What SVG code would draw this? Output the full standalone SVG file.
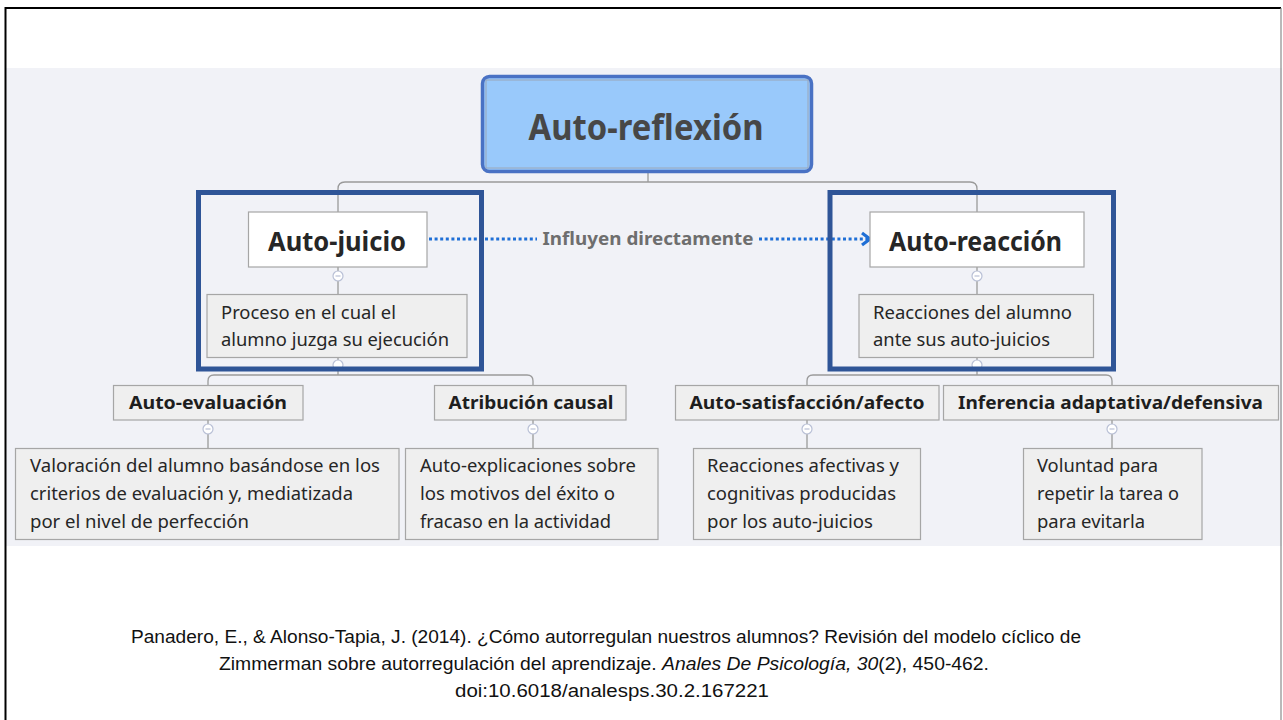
<svg xmlns="http://www.w3.org/2000/svg" width="1283" height="720" viewBox="0 0 1283 720">
<style>
.bx{fill:#efefef;stroke:#a6a6a6;stroke-width:1.2}
.wh{fill:#ffffff;stroke:#a6a6a6;stroke-width:1.2}
.cn{fill:none;stroke:#9a9a9a;stroke-width:1.3}
.cc{fill:#ffffff;stroke:#b9c0d6;stroke-width:1.2}
.cm{stroke:#b9c0d6;stroke-width:1.2}
.fr{fill:none;stroke:#2f5597;stroke-width:5}
.t{font-family:"Noto Sans","Open Sans","Liberation Sans",sans-serif;fill:#262626}
.b{font-weight:bold}
.d{font-size:18px}
.h{font-size:18px;font-weight:bold;fill:#1e1e1e}
.cit{font-family:"Liberation Sans",Arial,sans-serif;font-size:17.5px;fill:#111}
</style>
<rect x="0" y="0" width="1283" height="720" fill="#ffffff"/>
<rect x="6" y="68" width="1276" height="478" fill="#f1f2f7"/>
<path d="M5.5,720 V8 H1281" fill="none" stroke="#000" stroke-width="2"/>
<path d="M1281,8 V720" fill="none" stroke="#8a8a8a" stroke-width="1.2"/>

<g id="connectors">
<path class="cn" d="M648,173 V182"/>
<path class="cn" d="M338,212 V189 Q338,182 345,182 H970 Q977,182 977,189 V212"/>
<path class="cn" d="M338,267 V294"/>
<path class="cn" d="M977,267 V294"/>
<path class="cn" d="M338,358 V375"/>
<path class="cn" d="M977,358 V375"/>
<path class="cn" d="M208,385 V381 Q208,375 214,375 H527 Q533,375 533,381 V385"/>
<path class="cn" d="M807,385 V381 Q807,375 813,375 H1106 Q1112,375 1112,381 V385"/>
<path class="cn" d="M208,420 V448"/>
<path class="cn" d="M533,420 V448"/>
<path class="cn" d="M807,420 V448"/>
<path class="cn" d="M1112,420 V448"/>
<g id="collapse">
<circle class="cc" cx="338" cy="276" r="5"/><path class="cm" d="M335.5,276 H340.5"/>
<circle class="cc" cx="977" cy="276" r="5"/><path class="cm" d="M974.5,276 H979.5"/>
<circle class="cc" cx="338" cy="365" r="5"/>
<circle class="cc" cx="977" cy="365" r="5"/>
<circle class="cc" cx="208" cy="429" r="5"/><path class="cm" d="M205.5,429 H210.5"/>
<circle class="cc" cx="533" cy="429" r="5"/><path class="cm" d="M530.5,429 H535.5"/>
<circle class="cc" cx="807" cy="429" r="5"/><path class="cm" d="M804.5,429 H809.5"/>
<circle class="cc" cx="1112" cy="429" r="5"/><path class="cm" d="M1109.5,429 H1114.5"/>
</g>
<g id="influence">
<path d="M429,239 H537 M759,239 H868" fill="none" stroke="#1f6fd6" stroke-width="3.2" stroke-dasharray="3 2.6"/>
<polyline points="862,233 870,239 862,245" fill="none" stroke="#1f6fd6" stroke-width="3.2"/>
<text class="t b" x="648" y="245" font-size="17.5" text-anchor="middle" style="fill:#6e6e6e" textLength="211" lengthAdjust="spacingAndGlyphs">Influyen directamente</text>
</g>
</g>

<g id="root">
<rect x="482.5" y="76.5" width="329" height="95" rx="7" fill="#99c9fb" stroke="#4a72c4" stroke-width="3.5"/>
<rect x="486" y="80" width="322" height="88" fill="none" stroke="#9aa6b8" stroke-width="1"/>
<text class="t b" x="646" y="140" font-size="35" text-anchor="middle" style="fill:#474747" textLength="235" lengthAdjust="spacingAndGlyphs">Auto-reflexión</text>
</g>

<g id="auto-juicio">
<rect class="wh" x="248.5" y="212" width="178.5" height="55"/>
<text class="t b" x="337" y="251" font-size="26" text-anchor="middle" textLength="138" lengthAdjust="spacingAndGlyphs">Auto-juicio</text>
</g>
<g id="auto-juicio-desc">
<rect class="bx" x="207" y="294.5" width="260" height="63"/>
<text class="t d" x="221" y="319" textLength="175" lengthAdjust="spacingAndGlyphs">Proceso en el cual el</text>
<text class="t d" x="221" y="346" textLength="228" lengthAdjust="spacingAndGlyphs">alumno juzga su ejecución</text>
</g>

<g id="auto-reaccion">
<rect class="wh" x="870" y="212" width="214" height="55"/>
<text class="t b" x="975.5" y="251" font-size="26" text-anchor="middle" textLength="173" lengthAdjust="spacingAndGlyphs">Auto-reacción</text>
</g>
<g id="auto-reaccion-desc">
<rect class="bx" x="859" y="294.5" width="234.5" height="63"/>
<text class="t d" x="873" y="319" textLength="199" lengthAdjust="spacingAndGlyphs">Reacciones del alumno</text>
<text class="t d" x="873" y="346" textLength="177" lengthAdjust="spacingAndGlyphs">ante sus auto-juicios</text>
</g>

<g id="frame-left"><rect class="fr" x="198.5" y="192.5" width="283" height="176.5"/></g>
<g id="frame-right"><rect class="fr" x="830" y="192.5" width="283.5" height="176.5"/></g>

<g id="auto-evaluacion">
<rect class="bx" x="113.5" y="385.5" width="189.5" height="34.5"/>
<text class="t h" x="208" y="409" text-anchor="middle" textLength="158" lengthAdjust="spacingAndGlyphs">Auto-evaluación</text>
</g>
<g id="auto-evaluacion-desc">
<rect class="bx" x="15.5" y="448.5" width="383.5" height="91"/>
<text class="t d" x="30" y="472" textLength="350" lengthAdjust="spacingAndGlyphs">Valoración del alumno basándose en los</text>
<text class="t d" x="30" y="500" textLength="323" lengthAdjust="spacingAndGlyphs">criterios de evaluación y, mediatizada</text>
<text class="t d" x="30" y="528" textLength="219" lengthAdjust="spacingAndGlyphs">por el nivel de perfección</text>
</g>

<g id="atribucion">
<rect class="bx" x="434.5" y="385.5" width="191.5" height="34.5"/>
<text class="t h" x="531" y="409" text-anchor="middle" textLength="165" lengthAdjust="spacingAndGlyphs">Atribución causal</text>
</g>
<g id="atribucion-desc">
<rect class="bx" x="405.5" y="448.5" width="252.5" height="91"/>
<text class="t d" x="420" y="472" textLength="216" lengthAdjust="spacingAndGlyphs">Auto-explicaciones sobre</text>
<text class="t d" x="420" y="500" textLength="195" lengthAdjust="spacingAndGlyphs">los motivos del éxito o</text>
<text class="t d" x="420" y="528" textLength="191" lengthAdjust="spacingAndGlyphs">fracaso en la actividad</text>
</g>

<g id="auto-satisfaccion">
<rect class="bx" x="675.5" y="385.5" width="263.5" height="34.5"/>
<text class="t h" x="807" y="409" text-anchor="middle" textLength="235" lengthAdjust="spacingAndGlyphs">Auto-satisfacción/afecto</text>
</g>
<g id="auto-satisfaccion-desc">
<rect class="bx" x="693.5" y="448.5" width="227" height="91"/>
<text class="t d" x="707" y="472" textLength="192" lengthAdjust="spacingAndGlyphs">Reacciones afectivas y</text>
<text class="t d" x="707" y="500" textLength="189" lengthAdjust="spacingAndGlyphs">cognitivas producidas</text>
<text class="t d" x="707" y="528" textLength="166" lengthAdjust="spacingAndGlyphs">por los auto-juicios</text>
</g>

<g id="inferencia">
<rect class="bx" x="943.5" y="385.5" width="335" height="34.5"/>
<text class="t h" x="1110.5" y="409" text-anchor="middle" textLength="305" lengthAdjust="spacingAndGlyphs">Inferencia adaptativa/defensiva</text>
</g>
<g id="inferencia-desc">
<rect class="bx" x="1023.5" y="448.5" width="178.5" height="91"/>
<text class="t d" x="1037" y="472" textLength="121" lengthAdjust="spacingAndGlyphs">Voluntad para</text>
<text class="t d" x="1037" y="500" textLength="142" lengthAdjust="spacingAndGlyphs">repetir la tarea o</text>
<text class="t d" x="1037" y="528" textLength="108" lengthAdjust="spacingAndGlyphs">para evitarla</text>
</g>

<g id="citation">
<text class="cit" x="606" y="643" text-anchor="middle" textLength="950" lengthAdjust="spacingAndGlyphs">Panadero, E., &amp; Alonso-Tapia, J. (2014). ¿Cómo autorregulan nuestros alumnos? Revisión del modelo cíclico de</text>
<text class="cit" x="604" y="670" text-anchor="middle" textLength="770" lengthAdjust="spacingAndGlyphs">Zimmerman sobre autorregulación del aprendizaje. <tspan font-style="italic">Anales De Psicología, 30</tspan>(2), 450-462.</text>
<text class="cit" x="612" y="697" text-anchor="middle" textLength="314" lengthAdjust="spacingAndGlyphs">doi:10.6018/analesps.30.2.167221</text>
</g>
</svg>
